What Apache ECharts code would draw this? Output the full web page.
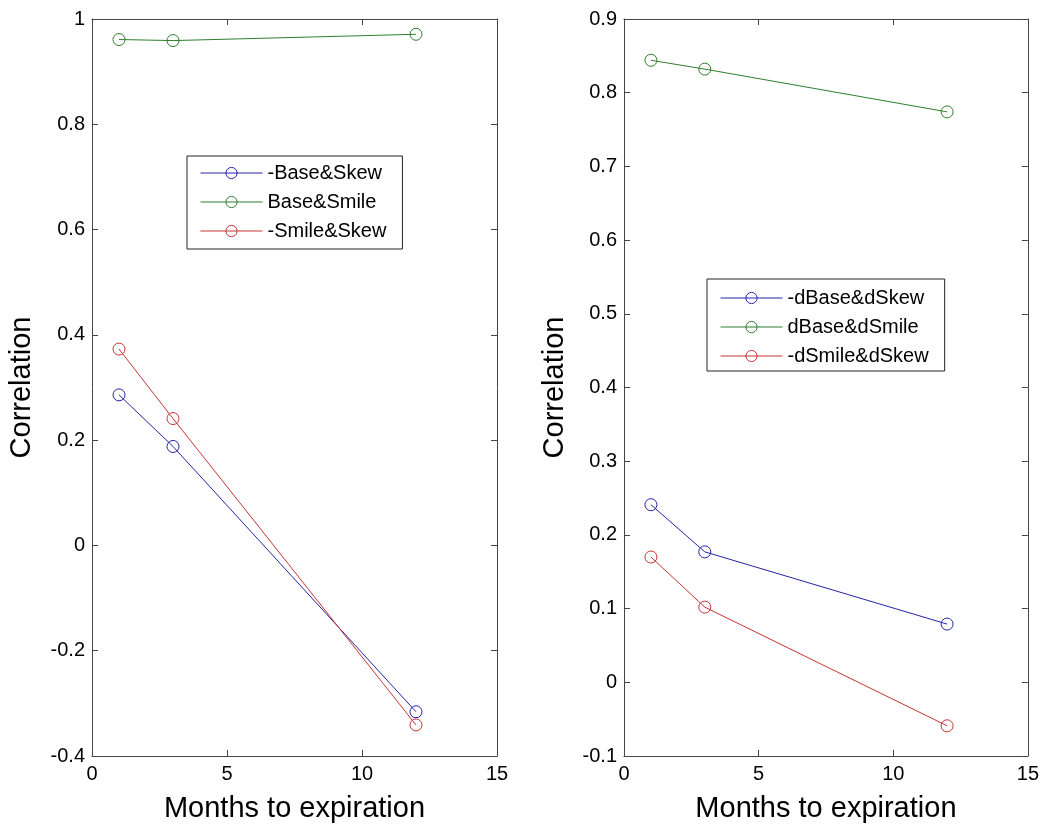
<!DOCTYPE html>
<html>
<head>
<meta charset="utf-8">
<script src="https://cdn.jsdelivr.net/npm/echarts@6/dist/echarts.min.js"></script>
<style>
html,body{margin:0;padding:0;background:#fff;}
#chart{width:1042px;height:828px;}
</style>
</head>
<body>
<div id="chart"></div>
<script>
// Data
const months = [1, 3, 12];
const leftNames = ['-Base&Skew', 'Base&Smile', '-Smile&Skew'];
const leftBaseSkew = [0.286, 0.188, -0.316];
const leftBaseSmile = [0.961, 0.959, 0.971];
const leftSmileSkew = [0.373, 0.241, -0.341];
const rightNames = ['-dBase&dSkew', 'dBase&dSmile', '-dSmile&dSkew'];
const rightBaseSkew = [0.241, 0.177, 0.079];
const rightBaseSmile = [0.844, 0.832, 0.774];
const rightSmileSkew = [0.170, 0.102, -0.059];
const xTitle = 'Months to expiration';
const yTitle = 'Correlation';

const colors = ['#2424a8', '#2f7f2f', '#c83434'];
const FONT = 'Liberation Sans, Arial, Helvetica, sans-serif';
const AXC = '#444';

function pairs(vals) { return months.map((m, i) => [m, vals[i]]); }

function mkSeries(name, vals, color, xi, yi) {
  return {
    name: name, type: 'line', xAxisIndex: xi, yAxisIndex: yi,
    data: pairs(vals),
    symbol: 'circle', symbolSize: 12,
    lineStyle: { color: color, width: 1 },
    itemStyle: { color: 'rgba(255,255,255,0)', borderColor: color, borderWidth: 1 },
    emphasis: { disabled: true },
    animation: false, z: 3
  };
}

function xAx(gi, pos, showLabel) {
  return {
    type: 'value', gridIndex: gi, position: pos, min: 0, max: 15, interval: 5,
    axisLine: { show: true, onZero: false, lineStyle: { color: AXC, width: 1 } },
    axisTick: { show: true, inside: true, length: 6, lineStyle: { color: AXC } },
    axisLabel: { show: showLabel, color: '#000', fontSize: 20, fontFamily: FONT, margin: 8 },
    splitLine: { show: false },
    name: showLabel ? xTitle : '', nameLocation: 'middle', nameGap: 38,
    nameTextStyle: { color: '#000', fontSize: 29, fontFamily: FONT }
  };
}
function yAx(gi, pos, showLabel, mn, mx, iv, gap) {
  return {
    type: 'value', gridIndex: gi, position: pos, min: mn, max: mx, interval: iv,
    axisLine: { show: true, onZero: false, lineStyle: { color: AXC, width: 1 } },
    axisTick: { show: true, inside: true, length: 6, lineStyle: { color: AXC } },
    axisLabel: { show: showLabel, color: '#000', fontSize: 20, fontFamily: FONT, margin: 7 },
    splitLine: { show: false },
    name: showLabel ? yTitle : '', nameLocation: 'middle', nameGap: gap, nameRotate: 90,
    nameTextStyle: { color: '#000', fontSize: 29, fontFamily: FONT }
  };
}
function mkLegend(names, left, top, pad) {
  return {
    data: names, left: left, top: top, orient: 'vertical',
    backgroundColor: '#fff', borderColor: '#222', borderWidth: 1,
    padding: pad, itemWidth: 62, itemHeight: 14, itemGap: 9,
    selectedMode: false,
    itemStyle: { borderWidth: 1 },
    lineStyle: { width: 1 },
    textStyle: { color: '#000', fontSize: 20, fontFamily: FONT, lineHeight: 20 }
  };
}

const chart = echarts.init(document.getElementById('chart'), null, { renderer: 'canvas' });
chart.setOption({
  backgroundColor: '#fff',
  animation: false,
  grid: [
    { left: 92, top: 19, width: 405, height: 738 },
    { left: 624, top: 19, width: 405, height: 738 }
  ],
  xAxis: [xAx(0, 'bottom', true), xAx(0, 'top', false), xAx(1, 'bottom', true), xAx(1, 'top', false)],
  yAxis: [
    yAx(0, 'left', true, -0.4, 1, 0.2, 56), yAx(0, 'right', false, -0.4, 1, 0.2, 0),
    yAx(1, 'left', true, -0.1, 0.9, 0.1, 55), yAx(1, 'right', false, -0.1, 0.9, 0.1, 0)
  ],
  legend: [
    mkLegend(leftNames, 187, 156, [7, 16, 8, 13]),
    mkLegend(rightNames, 707, 279, [9, 16, 5, 13])
  ],
  series: [
    mkSeries(leftNames[0], leftBaseSkew, colors[0], 0, 0),
    mkSeries(leftNames[1], leftBaseSmile, colors[1], 0, 0),
    mkSeries(leftNames[2], leftSmileSkew, colors[2], 0, 0),
    mkSeries(rightNames[0], rightBaseSkew, colors[0], 2, 2),
    mkSeries(rightNames[1], rightBaseSmile, colors[1], 2, 2),
    mkSeries(rightNames[2], rightSmileSkew, colors[2], 2, 2)
  ]
});
</script>
</body>
</html>
